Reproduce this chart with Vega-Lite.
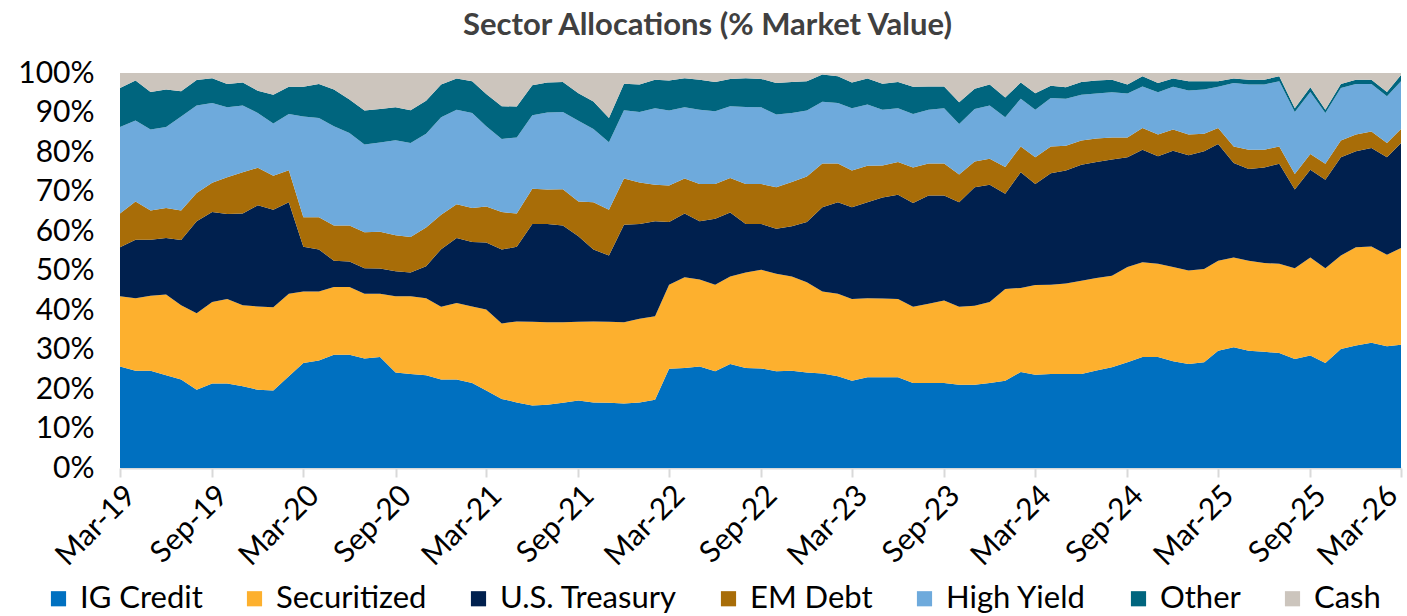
{
  "$schema": "https://vega.github.io/schema/vega-lite/v6.json",
  "width": 1281,
  "height": 395,
  "autosize": "none",
  "padding": {"left": 120, "top": 73, "right": 6, "bottom": 148},
  "background": "white",
  "title": {"text": "Sector Allocations (% Market Value)", "font": "Lato", "fontSize": 31, "fontWeight": "bold", "color": "#404040", "anchor": "middle", "frame": "group", "dx": -53, "offset": 16},
  "datasets": {
    "sectors": [
      {"key": "ig", "sector": "IG Credit", "rank": 1},
      {"key": "sec", "sector": "Securitized", "rank": 2},
      {"key": "ust", "sector": "U.S. Treasury", "rank": 3},
      {"key": "em", "sector": "EM Debt", "rank": 4},
      {"key": "hy", "sector": "High Yield", "rank": 5},
      {"key": "oth", "sector": "Other", "rank": 6},
      {"key": "cash", "sector": "Cash", "rank": 7}
    ]
  },
  "data": {"values": [
    {"date": "2019-03-01", "ig": 25.7, "sec": 17.8, "ust": 12.4, "em": 8.5, "hy": 21.9, "oth": 9.9, "cash": 3.8},
    {"date": "2019-04-01", "ig": 24.6, "sec": 18.4, "ust": 14.8, "em": 9.7, "hy": 20.5, "oth": 10.1, "cash": 1.9},
    {"date": "2019-05-01", "ig": 24.6, "sec": 19.0, "ust": 14.2, "em": 7.4, "hy": 20.5, "oth": 9.5, "cash": 4.8},
    {"date": "2019-06-01", "ig": 23.5, "sec": 20.4, "ust": 14.3, "em": 7.6, "hy": 20.5, "oth": 9.5, "cash": 4.2},
    {"date": "2019-07-01", "ig": 22.4, "sec": 18.8, "ust": 16.5, "em": 7.5, "hy": 23.8, "oth": 6.4, "cash": 4.6},
    {"date": "2019-08-01", "ig": 19.8, "sec": 19.4, "ust": 23.3, "em": 7.1, "hy": 22.2, "oth": 6.4, "cash": 1.8},
    {"date": "2019-09-01", "ig": 21.4, "sec": 20.6, "ust": 22.8, "em": 7.4, "hy": 20.2, "oth": 6.3, "cash": 1.3},
    {"date": "2019-10-01", "ig": 21.4, "sec": 21.4, "ust": 21.5, "em": 9.3, "hy": 17.7, "oth": 5.9, "cash": 2.8},
    {"date": "2019-11-01", "ig": 20.7, "sec": 20.5, "ust": 23.2, "em": 10.5, "hy": 16.9, "oth": 5.8, "cash": 2.4},
    {"date": "2019-12-01", "ig": 19.8, "sec": 21.1, "ust": 25.6, "em": 9.5, "hy": 13.9, "oth": 5.6, "cash": 4.5},
    {"date": "2020-01-01", "ig": 19.6, "sec": 21.1, "ust": 24.7, "em": 8.6, "hy": 13.2, "oth": 7.3, "cash": 5.5},
    {"date": "2020-02-01", "ig": 23.2, "sec": 20.9, "ust": 23.2, "em": 8.1, "hy": 14.2, "oth": 6.9, "cash": 3.5},
    {"date": "2020-03-01", "ig": 26.6, "sec": 18.1, "ust": 11.3, "em": 7.5, "hy": 25.5, "oth": 7.5, "cash": 3.5},
    {"date": "2020-04-01", "ig": 27.2, "sec": 17.5, "ust": 10.6, "em": 8.2, "hy": 25.1, "oth": 8.6, "cash": 2.8},
    {"date": "2020-05-01", "ig": 28.7, "sec": 17.1, "ust": 6.7, "em": 8.9, "hy": 25.1, "oth": 9.3, "cash": 4.2},
    {"date": "2020-06-01", "ig": 28.7, "sec": 17.1, "ust": 6.5, "em": 9.1, "hy": 23.4, "oth": 8.5, "cash": 6.7},
    {"date": "2020-07-01", "ig": 27.7, "sec": 16.4, "ust": 6.5, "em": 9.1, "hy": 22.2, "oth": 8.6, "cash": 9.5},
    {"date": "2020-08-01", "ig": 28.1, "sec": 16.0, "ust": 6.4, "em": 9.3, "hy": 22.6, "oth": 8.5, "cash": 9.1},
    {"date": "2020-09-01", "ig": 24.2, "sec": 19.3, "ust": 6.3, "em": 9.1, "hy": 24.1, "oth": 8.3, "cash": 8.7},
    {"date": "2020-10-01", "ig": 23.8, "sec": 19.7, "ust": 6.0, "em": 9.0, "hy": 23.8, "oth": 8.3, "cash": 9.4},
    {"date": "2020-11-01", "ig": 23.5, "sec": 19.5, "ust": 8.1, "em": 9.8, "hy": 23.7, "oth": 8.4, "cash": 7.0},
    {"date": "2020-12-01", "ig": 22.4, "sec": 18.4, "ust": 14.6, "em": 8.7, "hy": 24.7, "oth": 8.3, "cash": 2.9},
    {"date": "2021-01-01", "ig": 22.4, "sec": 19.4, "ust": 16.4, "em": 8.6, "hy": 23.9, "oth": 7.9, "cash": 1.4},
    {"date": "2021-02-01", "ig": 21.5, "sec": 19.4, "ust": 16.3, "em": 8.6, "hy": 24.1, "oth": 8.0, "cash": 2.1},
    {"date": "2021-03-01", "ig": 19.6, "sec": 20.5, "ust": 17.0, "em": 9.1, "hy": 20.3, "oth": 8.2, "cash": 5.3},
    {"date": "2021-04-01", "ig": 17.5, "sec": 19.1, "ust": 18.7, "em": 9.5, "hy": 18.5, "oth": 8.3, "cash": 8.4},
    {"date": "2021-05-01", "ig": 16.6, "sec": 20.5, "ust": 18.9, "em": 8.4, "hy": 19.3, "oth": 7.8, "cash": 8.5},
    {"date": "2021-06-01", "ig": 15.8, "sec": 21.2, "ust": 24.8, "em": 8.9, "hy": 18.6, "oth": 7.6, "cash": 3.1},
    {"date": "2021-07-01", "ig": 16.0, "sec": 20.9, "ust": 24.9, "em": 8.7, "hy": 19.5, "oth": 7.6, "cash": 2.4},
    {"date": "2021-08-01", "ig": 16.5, "sec": 20.4, "ust": 24.5, "em": 9.2, "hy": 19.5, "oth": 7.6, "cash": 2.3},
    {"date": "2021-09-01", "ig": 17.1, "sec": 19.9, "ust": 21.7, "em": 8.8, "hy": 20.4, "oth": 7.0, "cash": 5.1},
    {"date": "2021-10-01", "ig": 16.6, "sec": 20.5, "ust": 18.2, "em": 12.0, "hy": 18.5, "oth": 7.0, "cash": 7.2},
    {"date": "2021-11-01", "ig": 16.5, "sec": 20.5, "ust": 16.8, "em": 11.6, "hy": 17.1, "oth": 6.1, "cash": 11.4},
    {"date": "2021-12-01", "ig": 16.3, "sec": 20.6, "ust": 24.7, "em": 11.7, "hy": 17.3, "oth": 6.7, "cash": 2.7},
    {"date": "2022-01-01", "ig": 16.6, "sec": 21.2, "ust": 24.0, "em": 10.5, "hy": 17.8, "oth": 7.0, "cash": 2.9},
    {"date": "2022-02-01", "ig": 17.3, "sec": 21.1, "ust": 24.1, "em": 9.2, "hy": 19.4, "oth": 7.2, "cash": 1.7},
    {"date": "2022-03-01", "ig": 25.1, "sec": 21.3, "ust": 15.9, "em": 9.2, "hy": 19.0, "oth": 7.6, "cash": 1.9},
    {"date": "2022-04-01", "ig": 25.3, "sec": 23.0, "ust": 16.1, "em": 8.9, "hy": 18.0, "oth": 7.4, "cash": 1.3},
    {"date": "2022-05-01", "ig": 25.7, "sec": 22.0, "ust": 14.8, "em": 9.4, "hy": 18.8, "oth": 7.6, "cash": 1.7},
    {"date": "2022-06-01", "ig": 24.5, "sec": 21.9, "ust": 16.7, "em": 8.8, "hy": 18.4, "oth": 7.4, "cash": 2.3},
    {"date": "2022-07-01", "ig": 26.3, "sec": 22.2, "ust": 16.2, "em": 8.7, "hy": 18.2, "oth": 6.9, "cash": 1.5},
    {"date": "2022-08-01", "ig": 25.3, "sec": 24.2, "ust": 12.3, "em": 10.1, "hy": 19.5, "oth": 7.3, "cash": 1.3},
    {"date": "2022-09-01", "ig": 25.2, "sec": 25.0, "ust": 11.6, "em": 10.1, "hy": 19.4, "oth": 7.2, "cash": 1.5},
    {"date": "2022-10-01", "ig": 24.5, "sec": 24.7, "ust": 11.4, "em": 10.5, "hy": 18.4, "oth": 8.0, "cash": 2.5},
    {"date": "2022-11-01", "ig": 24.6, "sec": 23.9, "ust": 12.7, "em": 11.2, "hy": 17.5, "oth": 7.8, "cash": 2.3},
    {"date": "2022-12-01", "ig": 24.2, "sec": 22.8, "ust": 15.3, "em": 11.5, "hy": 16.7, "oth": 7.4, "cash": 2.1},
    {"date": "2023-01-01", "ig": 23.9, "sec": 20.8, "ust": 21.3, "em": 11.1, "hy": 15.6, "oth": 6.9, "cash": 0.4},
    {"date": "2023-02-01", "ig": 23.2, "sec": 20.9, "ust": 23.2, "em": 9.8, "hy": 15.3, "oth": 6.8, "cash": 0.8},
    {"date": "2023-03-01", "ig": 22.1, "sec": 20.7, "ust": 23.2, "em": 9.3, "hy": 15.8, "oth": 6.5, "cash": 2.4},
    {"date": "2023-04-01", "ig": 23.0, "sec": 20.0, "ust": 24.3, "em": 9.2, "hy": 15.5, "oth": 6.6, "cash": 1.4},
    {"date": "2023-05-01", "ig": 23.0, "sec": 19.9, "ust": 25.6, "em": 8.1, "hy": 14.1, "oth": 6.6, "cash": 2.7},
    {"date": "2023-06-01", "ig": 23.0, "sec": 19.8, "ust": 26.4, "em": 8.3, "hy": 13.6, "oth": 6.6, "cash": 2.3},
    {"date": "2023-07-01", "ig": 21.5, "sec": 19.3, "ust": 26.3, "em": 9.0, "hy": 13.5, "oth": 6.9, "cash": 3.5},
    {"date": "2023-08-01", "ig": 21.5, "sec": 20.1, "ust": 27.4, "em": 8.1, "hy": 13.6, "oth": 5.9, "cash": 3.4},
    {"date": "2023-09-01", "ig": 21.5, "sec": 20.9, "ust": 26.6, "em": 8.1, "hy": 14.0, "oth": 5.5, "cash": 3.4},
    {"date": "2023-10-01", "ig": 21.1, "sec": 19.7, "ust": 26.5, "em": 7.0, "hy": 12.8, "oth": 5.5, "cash": 7.4},
    {"date": "2023-11-01", "ig": 21.1, "sec": 20.0, "ust": 30.0, "em": 6.5, "hy": 13.3, "oth": 5.1, "cash": 4.0},
    {"date": "2023-12-01", "ig": 21.5, "sec": 20.5, "ust": 29.7, "em": 6.6, "hy": 13.5, "oth": 5.3, "cash": 2.9},
    {"date": "2024-01-01", "ig": 22.1, "sec": 23.2, "ust": 24.1, "em": 6.8, "hy": 12.6, "oth": 5.0, "cash": 6.2},
    {"date": "2024-02-01", "ig": 24.3, "sec": 21.3, "ust": 29.3, "em": 6.5, "hy": 12.1, "oth": 4.1, "cash": 2.4},
    {"date": "2024-03-01", "ig": 23.6, "sec": 22.7, "ust": 25.6, "em": 6.8, "hy": 12.0, "oth": 4.2, "cash": 5.1},
    {"date": "2024-04-01", "ig": 23.8, "sec": 22.6, "ust": 28.2, "em": 6.8, "hy": 12.3, "oth": 3.1, "cash": 3.2},
    {"date": "2024-05-01", "ig": 23.8, "sec": 22.9, "ust": 28.6, "em": 6.3, "hy": 11.9, "oth": 2.9, "cash": 3.6},
    {"date": "2024-06-01", "ig": 23.8, "sec": 23.6, "ust": 29.4, "em": 6.1, "hy": 11.6, "oth": 3.2, "cash": 2.3},
    {"date": "2024-07-01", "ig": 24.7, "sec": 23.4, "ust": 29.4, "em": 5.9, "hy": 11.4, "oth": 3.3, "cash": 1.9},
    {"date": "2024-08-01", "ig": 25.5, "sec": 23.2, "ust": 29.4, "em": 5.6, "hy": 11.4, "oth": 3.2, "cash": 1.7},
    {"date": "2024-09-01", "ig": 26.8, "sec": 24.1, "ust": 27.8, "em": 5.0, "hy": 11.1, "oth": 2.3, "cash": 2.9},
    {"date": "2024-10-01", "ig": 28.1, "sec": 24.0, "ust": 28.5, "em": 5.5, "hy": 10.5, "oth": 2.6, "cash": 0.8},
    {"date": "2024-11-01", "ig": 28.1, "sec": 23.6, "ust": 27.2, "em": 5.5, "hy": 10.7, "oth": 2.4, "cash": 2.5},
    {"date": "2024-12-01", "ig": 27.0, "sec": 23.9, "ust": 29.4, "em": 5.4, "hy": 10.8, "oth": 2.1, "cash": 1.4},
    {"date": "2025-01-01", "ig": 26.3, "sec": 23.7, "ust": 29.2, "em": 5.2, "hy": 11.2, "oth": 2.3, "cash": 2.1},
    {"date": "2025-02-01", "ig": 26.8, "sec": 23.6, "ust": 29.8, "em": 4.4, "hy": 11.2, "oth": 2.1, "cash": 2.1},
    {"date": "2025-03-01", "ig": 29.7, "sec": 22.8, "ust": 29.5, "em": 4.1, "hy": 10.4, "oth": 1.4, "cash": 2.1},
    {"date": "2025-04-01", "ig": 30.6, "sec": 22.7, "ust": 23.9, "em": 4.2, "hy": 16.1, "oth": 1.1, "cash": 1.4},
    {"date": "2025-05-01", "ig": 29.7, "sec": 22.8, "ust": 23.2, "em": 4.9, "hy": 16.5, "oth": 1.2, "cash": 1.7},
    {"date": "2025-06-01", "ig": 29.4, "sec": 22.5, "ust": 24.2, "em": 4.5, "hy": 16.5, "oth": 1.2, "cash": 1.7},
    {"date": "2025-07-01", "ig": 29.1, "sec": 22.6, "ust": 25.3, "em": 4.4, "hy": 16.5, "oth": 1.3, "cash": 0.8},
    {"date": "2025-08-01", "ig": 27.6, "sec": 23.0, "ust": 19.9, "em": 3.9, "hy": 15.7, "oth": 1.0, "cash": 8.9},
    {"date": "2025-09-01", "ig": 28.5, "sec": 24.8, "ust": 22.2, "em": 4.0, "hy": 15.7, "oth": 1.2, "cash": 3.6},
    {"date": "2025-10-01", "ig": 26.6, "sec": 24.0, "ust": 22.4, "em": 4.0, "hy": 12.9, "oth": 0.8, "cash": 9.3},
    {"date": "2025-11-01", "ig": 30.1, "sec": 23.7, "ust": 24.9, "em": 4.2, "hy": 13.3, "oth": 1.0, "cash": 2.8},
    {"date": "2025-12-01", "ig": 31.0, "sec": 24.9, "ust": 24.3, "em": 4.2, "hy": 12.8, "oth": 1.1, "cash": 1.7},
    {"date": "2026-01-01", "ig": 31.7, "sec": 24.4, "ust": 24.9, "em": 4.2, "hy": 12.0, "oth": 1.1, "cash": 1.7},
    {"date": "2026-02-01", "ig": 30.8, "sec": 23.2, "ust": 24.7, "em": 3.6, "hy": 11.8, "oth": 1.1, "cash": 4.8},
    {"date": "2026-03-01", "ig": 31.2, "sec": 24.5, "ust": 26.6, "em": 3.5, "hy": 12.1, "oth": 1.6, "cash": 0.5}
  ]},
  "transform": [
    {"fold": ["ig", "sec", "ust", "em", "hy", "oth", "cash"], "as": ["key", "value"]},
    {"lookup": "key", "from": {"data": {"name": "sectors"}, "key": "key", "fields": ["sector", "rank"]}}
  ],
  "mark": {"type": "area", "clip": true},
  "encoding": {
    "x": {
      "field": "date", "type": "temporal",
      "scale": {"type": "utc", "nice": false, "domain": [{"year": 2019, "month": "mar", "date": 1, "utc": true}, {"year": 2026, "month": "mar", "date": 1, "utc": true}]},
      "axis": {
        "title": null, "grid": false, "format": "%b-%y",
        "values": [
          {"year": 2019, "month": "mar", "date": 1, "utc": true},
          {"year": 2019, "month": "sep", "date": 1, "utc": true},
          {"year": 2020, "month": "mar", "date": 1, "utc": true},
          {"year": 2020, "month": "sep", "date": 1, "utc": true},
          {"year": 2021, "month": "mar", "date": 1, "utc": true},
          {"year": 2021, "month": "sep", "date": 1, "utc": true},
          {"year": 2022, "month": "mar", "date": 1, "utc": true},
          {"year": 2022, "month": "sep", "date": 1, "utc": true},
          {"year": 2023, "month": "mar", "date": 1, "utc": true},
          {"year": 2023, "month": "sep", "date": 1, "utc": true},
          {"year": 2024, "month": "mar", "date": 1, "utc": true},
          {"year": 2024, "month": "sep", "date": 1, "utc": true},
          {"year": 2025, "month": "mar", "date": 1, "utc": true},
          {"year": 2025, "month": "sep", "date": 1, "utc": true},
          {"year": 2026, "month": "mar", "date": 1, "utc": true}
        ],
        "labelAngle": -45, "labelAlign": "right", "labelBaseline": "top",
        "labelFont": "Lato", "labelFontSize": 30, "labelColor": "#000000",
        "labelFlush": false, "labelOverlap": false, "labelPadding": 3, "labelDx": -4,
        "labelOffset": {"condition": {"test": "datum.index >= 0.99", "value": -19}, "value": 0},
        "domainColor": "#d9d9d9", "domainWidth": 2,
        "tickColor": "#d9d9d9", "tickWidth": 2, "tickSize": 9
      }
    },
    "y": {
      "field": "value", "type": "quantitative", "stack": "zero",
      "scale": {"domain": [0, 100], "nice": false},
      "axis": {
        "title": null, "grid": false, "domain": false, "ticks": false,
        "values": [0, 10, 20, 30, 40, 50, 60, 70, 80, 90, 100],
        "labelExpr": "datum.value + '%'",
        "labelFont": "Lato", "labelFontSize": 30, "labelColor": "#000000", "labelPadding": 26
      }
    },
    "color": {
      "field": "sector", "type": "nominal",
      "scale": {
        "domain": ["IG Credit", "Securitized", "U.S. Treasury", "EM Debt", "High Yield", "Other", "Cash"],
        "range": ["#0070C0", "#FDB02E", "#00204E", "#A86D08", "#6EAADC", "#00657E", "#CCC5BD"]
      },
      "legend": {
        "orient": "none", "legendX": -77, "legendY": 510, "direction": "horizontal",
        "title": null, "symbolType": "square", "symbolSize": 230, "symbolStrokeWidth": 0, "symbolOpacity": 1,
        "labelFont": "Lato", "labelFontSize": 31, "labelColor": "#000000", "labelOffset": 6, "labelLimit": 0, "columnPadding": 36
      }
    },
    "order": {"field": "rank", "type": "quantitative", "sort": "ascending"}
  },
  "config": {"view": {"stroke": null}, "font": "Lato"}
}
